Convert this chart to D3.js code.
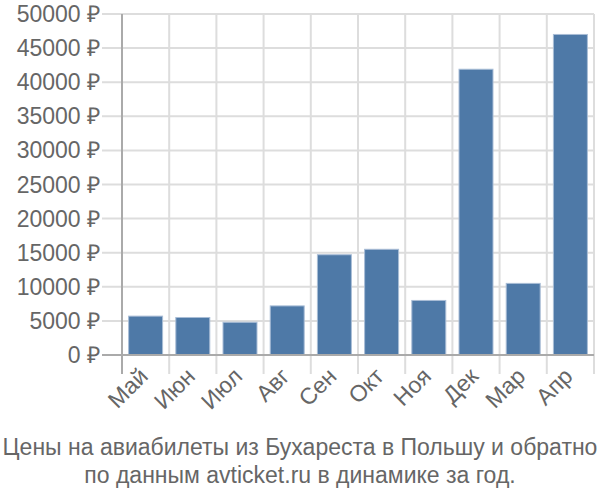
<!DOCTYPE html>
<meta charset="utf-8">
<script src="https://d3js.org/d3.v7.min.js"></script>
<style>
  body { margin: 0; background: #fff; }
  text { font-family: "Liberation Sans", Arial, sans-serif; fill: #666; }
</style>
<div id="chart"></div>
<script>
// months and average prices (rubles)
var months = ["Май", "Июн", "Июл", "Авг", "Сен", "Окт", "Ноя", "Дек", "Мар", "Апр"];
var prices = [5700, 5500, 4800, 7200, 14700, 15500, 8000, 41900, 10500, 47000];
var yTicks = [0, 5000, 10000, 15000, 20000, 25000, 30000, 35000, 40000, 45000, 50000];
var titleLines = ["Цены на авиабилеты из Бухареста в Польшу и обратно",
                  "по данным avticket.ru в динамике за год."];

var width = 600, height = 500;
var plotL = 122, plotR = 594, plotT = 14, plotB = 355;

var svg = d3.select("#chart").append("svg")
    .attr("width", width)
    .attr("height", height);

var x = d3.scaleBand().domain(months).range([plotL, plotR]).paddingInner(0.28).paddingOuter(0.14);
var y = d3.scaleLinear().domain([0, 50000]).range([plotB, plotT]);

// horizontal grid
svg.selectAll("line.hgrid").data(yTicks).enter().append("line")
    .attr("class", "hgrid")
    .attr("x1", plotL - 20).attr("x2", plotR)
    .attr("y1", function(d) { return y(d); }).attr("y2", function(d) { return y(d); })
    .style("stroke", "#ddd").style("stroke-width", 2);

// vertical grid at band edges
var edges = months.map(function(m, i) { return plotL + i * x.step(); });
edges.push(plotR);
svg.selectAll("line.vgrid").data(edges).enter().append("line")
    .attr("class", "vgrid")
    .attr("x1", function(d) { return d; }).attr("x2", function(d) { return d; })
    .attr("y1", plotT).attr("y2", plotB + 19)
    .style("stroke", "#ddd").style("stroke-width", 2);

// bars
svg.selectAll("rect.bar").data(prices).enter().append("rect")
    .attr("class", "bar")
    .attr("x", function(d, i) { return x(months[i]); })
    .attr("width", x.bandwidth())
    .attr("y", function(d) { return y(d); })
    .attr("height", function(d) { return plotB - y(d); })
    .style("fill", "#4e79a7")
    .style("stroke", "#a9bdd6").style("stroke-width", 1);

// axes lines
svg.append("line").attr("x1", plotL).attr("x2", plotL).attr("y1", plotT).attr("y2", plotB + 19)
    .style("stroke", "#aaa").style("stroke-width", 2);
svg.append("line").attr("x1", plotL - 20).attr("x2", plotR).attr("y1", plotB).attr("y2", plotB)
    .style("stroke", "#aaa").style("stroke-width", 2);

// y labels
svg.selectAll("text.ylab").data(yTicks).enter().append("text")
    .attr("class", "ylab")
    .attr("x", plotL - 22)
    .attr("y", function(d) { return y(d); })
    .attr("dy", "0.35em")
    .attr("text-anchor", "end")
    .style("font-size", "23px")
    .text(function(d) { return d + " ₽"; });

// x labels
svg.selectAll("text.xlab").data(months).enter().append("text")
    .attr("class", "xlab")
    .attr("text-anchor", "end")
    .attr("transform", function(d) {
      return "translate(" + (x(d) + x.bandwidth() / 2 - 2) + "," + (plotB + 17) + ") rotate(-45)";
    })
    .attr("dy", "0.35em")
    .style("font-size", "23px")
    .text(function(d) { return d; });

// title
svg.selectAll("text.title").data(titleLines).enter().append("text")
    .attr("class", "title")
    .attr("x", width / 2)
    .attr("y", function(d, i) { return 455 + i * 28; })
    .attr("text-anchor", "middle")
    .style("font-size", "23px")
    .text(function(d) { return d; });
</script>
